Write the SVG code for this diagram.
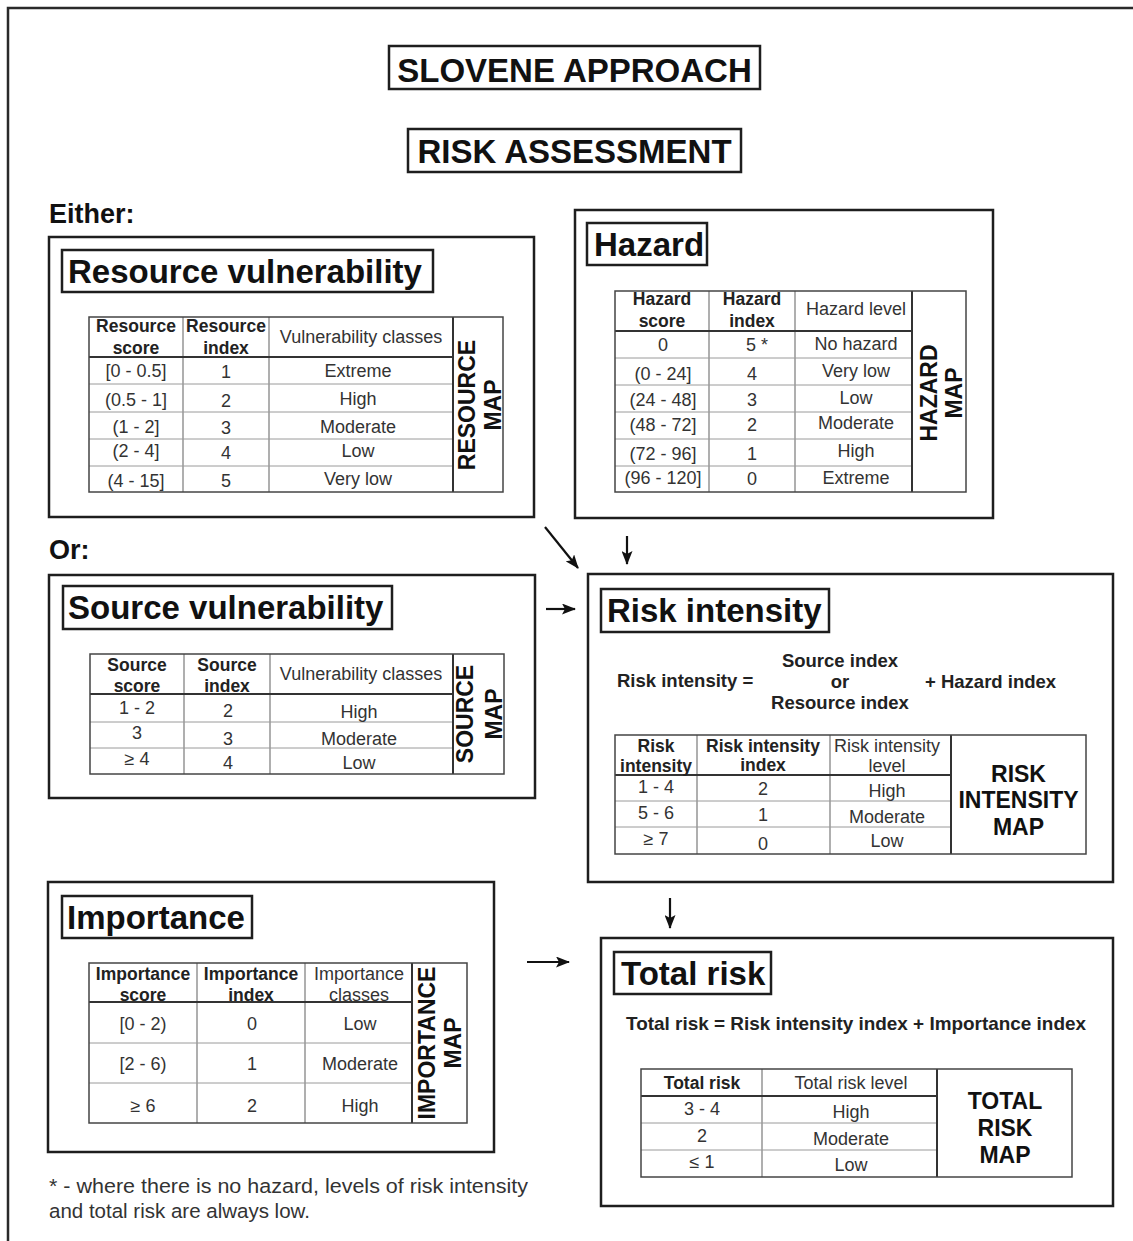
<svg xmlns="http://www.w3.org/2000/svg" width="1133" height="1241" viewBox="0 0 1133 1241">
<style>
.frame{fill:none;stroke:#2a2a2a;stroke-width:2.5}
.box{fill:none;stroke:#1e1e1e;stroke-width:2.5}
.tbl{fill:none;stroke:#444;stroke-width:1.5}
.hl{stroke:#333;stroke-width:2}
.rl{stroke:#9a9a9a;stroke-width:1}
.cl{stroke:#7a7a7a;stroke-width:1.2}
.ml{stroke:#333;stroke-width:2}
text{font-family:"Liberation Sans",Arial,sans-serif}
.big{font-weight:bold;font-size:33px;fill:#111;text-anchor:middle}
.title{font-weight:bold;font-size:33px;fill:#111}
.lbl{font-weight:bold;font-size:27px;fill:#111}
.hb{font-weight:bold;font-size:17.5px;fill:#222;text-anchor:middle}
.hr{font-size:18px;fill:#333;text-anchor:middle}
.d{font-size:18px;fill:#333;text-anchor:middle}
.map{font-weight:bold;font-size:23px;fill:#111;text-anchor:middle}
.f{font-weight:bold;font-size:18.5px;fill:#222}
.fc{font-weight:bold;font-size:18.5px;fill:#222;text-anchor:middle}
.note{font-size:20.5px;fill:#333}
.arrow{stroke:#111;stroke-width:2.2;fill:none}
</style>
<defs>
<marker id="ah" viewBox="0 0 14 11" refX="13" refY="5.5" markerWidth="14" markerHeight="11" markerUnits="userSpaceOnUse" orient="auto">
<path d="M0,0 L14,5.5 L0,11 L3,5.5 Z" fill="#111"/>
</marker>
</defs>
<rect width="1133" height="1241" fill="#ffffff"/>
<path class="frame" d="M8,1241 L8,8 L1133,8"/>

<g id="header">
<rect class="box" x="389" y="46" width="371" height="43"/>
<text class="big" x="574.5" y="82">SLOVENE APPROACH</text>
<rect class="box" x="408" y="129" width="333" height="43"/>
<text class="big" x="574.5" y="163">RISK ASSESSMENT</text>
<text class="lbl" x="49" y="223">Either:</text>
<text class="lbl" x="49" y="559">Or:</text>
</g>

<g id="resource-vulnerability">
<rect class="box" x="49" y="237" width="485" height="280"/>
<rect class="box" x="62" y="250" width="371" height="42"/>
<text class="title" x="68" y="283">Resource vulnerability</text>
<line class="cl" x1="183" y1="317" x2="183" y2="492"/>
<line class="cl" x1="269" y1="317" x2="269" y2="492"/>
<line class="rl" x1="89" y1="384" x2="453" y2="384"/>
<line class="rl" x1="89" y1="412" x2="453" y2="412"/>
<line class="rl" x1="89" y1="439" x2="453" y2="439"/>
<line class="rl" x1="89" y1="466" x2="453" y2="466"/>
<line class="hl" x1="89" y1="357" x2="453" y2="357"/>
<line class="ml" x1="453" y1="317" x2="453" y2="492"/>
<rect class="tbl" x="89" y="317" width="414" height="175"/>
<text class="hb" x="136" y="332">Resource</text>
<text class="hb" x="136" y="354">score</text>
<text class="hb" x="226" y="332">Resource</text>
<text class="hb" x="226" y="354">index</text>
<text class="hr" x="361" y="343">Vulnerability classes</text>
<text class="d" x="136" y="377">[0 - 0.5]</text><text class="d" x="226" y="378">1</text><text class="d" x="358" y="377">Extreme</text>
<text class="d" x="136" y="406">(0.5 - 1]</text><text class="d" x="226" y="407">2</text><text class="d" x="358" y="405">High</text>
<text class="d" x="136" y="433">(1 - 2]</text><text class="d" x="226" y="434">3</text><text class="d" x="358" y="433">Moderate</text>
<text class="d" x="136" y="457">(2 - 4]</text><text class="d" x="226" y="459">4</text><text class="d" x="358" y="457">Low</text>
<text class="d" x="136" y="487">(4 - 15]</text><text class="d" x="226" y="487">5</text><text class="d" x="358" y="485">Very low</text>
<text class="map" transform="translate(475,405) rotate(-90)">RESOURCE</text>
<text class="map" transform="translate(501,405) rotate(-90)">MAP</text>
</g>

<g id="hazard">
<rect class="box" x="575" y="210" width="418" height="308"/>
<rect class="box" x="587" y="223" width="120" height="42"/>
<text class="title" x="594" y="256">Hazard</text>
<line class="cl" x1="709" y1="291" x2="709" y2="492"/>
<line class="cl" x1="795" y1="291" x2="795" y2="492"/>
<line class="rl" x1="615" y1="358" x2="912" y2="358"/>
<line class="rl" x1="615" y1="385" x2="912" y2="385"/>
<line class="rl" x1="615" y1="412" x2="912" y2="412"/>
<line class="rl" x1="615" y1="439" x2="912" y2="439"/>
<line class="rl" x1="615" y1="466" x2="912" y2="466"/>
<line class="hl" x1="615" y1="331" x2="912" y2="331"/>
<line class="ml" x1="912" y1="291" x2="912" y2="492"/>
<rect class="tbl" x="615" y="291" width="351" height="201"/>
<text class="hb" x="662" y="305">Hazard</text>
<text class="hb" x="662" y="327">score</text>
<text class="hb" x="752" y="305">Hazard</text>
<text class="hb" x="752" y="327">index</text>
<text class="hr" x="856" y="315">Hazard level</text>
<text class="d" x="663" y="351">0</text><text class="d" x="757" y="351">5 *</text><text class="d" x="856" y="350">No hazard</text>
<text class="d" x="663" y="380">(0 - 24]</text><text class="d" x="752" y="380">4</text><text class="d" x="856" y="377">Very low</text>
<text class="d" x="663" y="406">(24 - 48]</text><text class="d" x="752" y="406">3</text><text class="d" x="856" y="404">Low</text>
<text class="d" x="663" y="431">(48 - 72]</text><text class="d" x="752" y="431">2</text><text class="d" x="856" y="429">Moderate</text>
<text class="d" x="663" y="460">(72 - 96]</text><text class="d" x="752" y="460">1</text><text class="d" x="856" y="457">High</text>
<text class="d" x="663" y="484">(96 - 120]</text><text class="d" x="752" y="485">0</text><text class="d" x="856" y="484">Extreme</text>
<text class="map" transform="translate(937,393) rotate(-90)">HAZARD</text>
<text class="map" transform="translate(962,393) rotate(-90)">MAP</text>
</g>

<g id="source-vulnerability">
<rect class="box" x="49" y="575" width="486" height="223"/>
<rect class="box" x="63" y="586" width="329" height="43"/>
<text class="title" x="68" y="619">Source vulnerability</text>
<line class="cl" x1="184" y1="654" x2="184" y2="774"/>
<line class="cl" x1="270" y1="654" x2="270" y2="774"/>
<line class="rl" x1="90" y1="722" x2="453" y2="722"/>
<line class="rl" x1="90" y1="748" x2="453" y2="748"/>
<line class="hl" x1="90" y1="694" x2="453" y2="694"/>
<line class="ml" x1="453" y1="654" x2="453" y2="774"/>
<rect class="tbl" x="90" y="654" width="414" height="120"/>
<text class="hb" x="137" y="671">Source</text>
<text class="hb" x="137" y="692">score</text>
<text class="hb" x="227" y="671">Source</text>
<text class="hb" x="227" y="692">index</text>
<text class="hr" x="361" y="680">Vulnerability classes</text>
<text class="d" x="137" y="714">1 - 2</text><text class="d" x="228" y="717">2</text><text class="d" x="359" y="718">High</text>
<text class="d" x="137" y="739">3</text><text class="d" x="228" y="745">3</text><text class="d" x="359" y="745">Moderate</text>
<text class="d" x="137" y="765">≥ 4</text><text class="d" x="228" y="769">4</text><text class="d" x="359" y="769">Low</text>
<text class="map" transform="translate(473,714) rotate(-90)">SOURCE</text>
<text class="map" transform="translate(502,714) rotate(-90)">MAP</text>
</g>

<g id="risk-intensity">
<rect class="box" x="588" y="574" width="525" height="308"/>
<rect class="box" x="601" y="589" width="228" height="43"/>
<text class="title" x="607" y="622">Risk intensity</text>
<text class="f" x="617" y="687">Risk intensity =</text>
<text class="fc" x="840" y="667">Source index</text>
<text class="fc" x="840" y="688">or</text>
<text class="fc" x="840" y="709">Resource index</text>
<text class="f" x="925" y="688">+ Hazard index</text>
<line class="cl" x1="697" y1="735" x2="697" y2="854"/>
<line class="cl" x1="830" y1="735" x2="830" y2="854"/>
<line class="rl" x1="615" y1="801" x2="951" y2="801"/>
<line class="rl" x1="615" y1="827" x2="951" y2="827"/>
<line class="hl" x1="615" y1="775" x2="951" y2="775"/>
<line class="ml" x1="951" y1="735" x2="951" y2="854"/>
<rect class="tbl" x="615" y="735" width="471" height="119"/>
<text class="hb" x="656" y="752">Risk</text>
<text class="hb" x="656" y="772">intensity</text>
<text class="hb" x="763" y="752">Risk intensity</text>
<text class="hb" x="763" y="771">index</text>
<text class="hr" x="887" y="752">Risk intensity</text>
<text class="hr" x="887" y="772">level</text>
<text class="d" x="656" y="793">1 - 4</text><text class="d" x="763" y="795">2</text><text class="d" x="887" y="797">High</text>
<text class="d" x="656" y="819">5 - 6</text><text class="d" x="763" y="821">1</text><text class="d" x="887" y="823">Moderate</text>
<text class="d" x="656" y="845">≥ 7</text><text class="d" x="763" y="850">0</text><text class="d" x="887" y="847">Low</text>
<text class="map" x="1018.5" y="782">RISK</text>
<text class="map" x="1018.5" y="808">INTENSITY</text>
<text class="map" x="1018.5" y="835">MAP</text>
</g>

<g id="importance">
<rect class="box" x="48" y="882" width="446" height="270"/>
<rect class="box" x="62" y="896" width="190" height="42"/>
<text class="title" x="67" y="929">Importance</text>
<text class="hb" x="143" y="980">Importance</text>
<text class="hb" x="143" y="1001">score</text>
<text class="hb" x="251" y="980">Importance</text>
<text class="hb" x="251" y="1001">index</text>
<text class="hr" x="359" y="980">Importance</text>
<text class="hr" x="359" y="1001">classes</text>
<line class="cl" x1="197" y1="963" x2="197" y2="1123"/>
<line class="cl" x1="305" y1="963" x2="305" y2="1123"/>
<line class="rl" x1="89" y1="1043" x2="412" y2="1043"/>
<line class="rl" x1="89" y1="1083" x2="412" y2="1083"/>
<line class="hl" x1="89" y1="1002" x2="412" y2="1002"/>
<line class="ml" x1="412" y1="963" x2="412" y2="1123"/>
<rect class="tbl" x="89" y="963" width="378" height="160"/>
<text class="d" x="143" y="1030">[0 - 2)</text><text class="d" x="252" y="1030">0</text><text class="d" x="360" y="1030">Low</text>
<text class="d" x="143" y="1070">[2 - 6)</text><text class="d" x="252" y="1070">1</text><text class="d" x="360" y="1070">Moderate</text>
<text class="d" x="143" y="1112">≥ 6</text><text class="d" x="252" y="1112">2</text><text class="d" x="360" y="1112">High</text>
<text class="map" transform="translate(435,1043) rotate(-90)">IMPORTANCE</text>
<text class="map" transform="translate(461,1043) rotate(-90)">MAP</text>
</g>

<g id="total-risk">
<rect class="box" x="601" y="938" width="512" height="268"/>
<rect class="box" x="614" y="952" width="157" height="42"/>
<text class="title" x="621" y="985">Total risk</text>
<text class="fc" x="856" y="1030" textLength="460" lengthAdjust="spacingAndGlyphs">Total risk = Risk intensity index + Importance index</text>
<line class="cl" x1="762" y1="1069" x2="762" y2="1177"/>
<line class="rl" x1="641" y1="1123" x2="937" y2="1123"/>
<line class="rl" x1="641" y1="1150" x2="937" y2="1150"/>
<line class="hl" x1="641" y1="1096" x2="937" y2="1096"/>
<line class="ml" x1="937" y1="1069" x2="937" y2="1177"/>
<rect class="tbl" x="641" y="1069" width="431" height="108"/>
<text class="hb" x="702" y="1089">Total risk</text>
<text class="hr" x="851" y="1089">Total risk level</text>
<text class="d" x="702" y="1115">3 - 4</text><text class="d" x="851" y="1118">High</text>
<text class="d" x="702" y="1142">2</text><text class="d" x="851" y="1145">Moderate</text>
<text class="d" x="702" y="1168">≤ 1</text><text class="d" x="851" y="1171">Low</text>
<text class="map" x="1005" y="1109">TOTAL</text>
<text class="map" x="1005" y="1136">RISK</text>
<text class="map" x="1005" y="1163">MAP</text>
</g>

<g id="footnote">
<text class="note" x="49" y="1193" textLength="479" lengthAdjust="spacingAndGlyphs">* - where there is no hazard, levels of risk intensity</text>
<text class="note" x="49" y="1218">and total risk are always low.</text>
</g>

<g id="connectors">
<line class="arrow" x1="545" y1="527" x2="578" y2="568" marker-end="url(#ah)"/>
<line class="arrow" x1="627" y1="536" x2="627" y2="564" marker-end="url(#ah)"/>
<line class="arrow" x1="546" y1="609" x2="575" y2="609" marker-end="url(#ah)"/>
<line class="arrow" x1="670" y1="898" x2="670" y2="928" marker-end="url(#ah)"/>
<line class="arrow" x1="527" y1="962" x2="569" y2="962" marker-end="url(#ah)"/>
</g>
</svg>
